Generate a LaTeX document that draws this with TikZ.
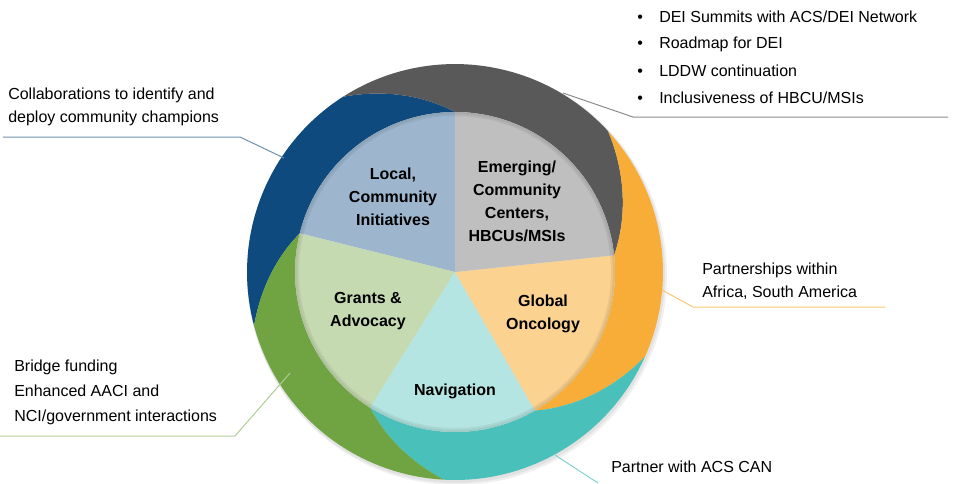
\documentclass[tikz,border=0pt]{standalone}
\usepackage{fontspec}
\setmainfont{Liberation Sans}

\definecolor{bandblue}{RGB}{14,74,126}
\definecolor{bandgray}{RGB}{89,89,89}
\definecolor{bandorange}{RGB}{247,173,55}
\definecolor{bandteal}{RGB}{74,192,186}
\definecolor{bandgreen}{RGB}{112,164,66}
\definecolor{pieblue}{RGB}{157,182,206}
\definecolor{piegray}{RGB}{191,191,191}
\definecolor{pieorange}{RGB}{251,210,143}
\definecolor{pieteal}{RGB}{180,229,226}
\definecolor{piegreen}{RGB}{197,218,177}

% band: colour, tip, end on the pie, next tip, next end
\newcommand{\band}[5]{\fill[#1] (#2:208)
  -- plot[domain=0:1,samples=30,variable=\t] ({#2+(#3-(#2))*\t}:{208-48*\t})
  arc[start angle=#3, end angle=#5, radius=160]
  -- plot[domain=0:1,samples=30,variable=\t] ({#5+(#4-(#5))*\t}:{160+48*\t})
  arc[start angle=#4, end angle=#2, radius=208] -- cycle;}

\tikzset{
  callout/.style={font=\fontsize{12}{17.25}\selectfont, align=left, inner sep=0, anchor=west},
  pielabel/.style={font=\fontsize{12}{17.25}\selectfont\bfseries, align=center, inner sep=0},
  leader/.style={line width=0.75pt}
}

\begin{document}
\begin{tikzpicture}[x=0.75pt, y=0.75pt]
    \useasboundingbox (-455,-211) rectangle (504,272);

    % soft shadow
    \fill[black, opacity=0.06] (2,-3) circle[radius=210];
    \fill[black, opacity=0.06] (1,-2) circle[radius=209];

    % outer swirl
    \band{bandblue}{195}{166}{122.6}{90}
    \band{bandgray}{122.6}{90}{42.6}{6}
    \band{bandorange}{42.6}{6}{-24}{-60}
    \band{bandteal}{-24}{-60}{-93}{-122}
    \band{bandgreen}{-93}{-122}{-165}{-194}

    % pie
    \foreach \c/\s/\e in {pieblue/90/166, piegreen/166/238, pieteal/238/300, pieorange/300/366, piegray/6/90}
      \fill[\c] (0,0) -- (\s:160) arc[start angle=\s, end angle=\e, radius=160] -- cycle;
    \draw[black, opacity=0.06, line width=3pt] (0,0) circle[radius=158];
    \draw[black, opacity=0.05, line width=1.5pt] (0,0) circle[radius=159];

    \node[pielabel] (local) at (-62,75) {Local,\\Community\\Initiatives};
    \node[pielabel] (emerging) at (62,71) {Emerging/\\Community\\Centers,\\HBCUs/MSIs};
    \node[pielabel] (grants) at (-87,-39) {Grants \&\\Advocacy};
    \node[pielabel] (global) at (88,-42) {Global\\Oncology};
    \node[pielabel] (navigation) at (0,-119) {Navigation};

    % callouts
    \foreach \t [count=\i] in {DEI Summits with ACS/DEI Network, Roadmap for DEI, LDDW continuation, Inclusiveness of HBCU/MSIs}
      \node[callout] (dei\i) at (182,282-27*\i) {\makebox[16.5pt][l]{\textbullet}\t};
    \coordinate (deiA) at (108,179);
    \coordinate (deiB) at (178,155);
    \coordinate (deiC) at (493,155);
    \draw[leader, black!45] (deiA) -- (deiB) -- (deiC);

    \node[callout] (collab) at (-447,165) {Collaborations to identify and\\deploy community champions};
    \coordinate (collabA) at (-171,114);
    \coordinate (collabB) at (-215,135);
    \coordinate (collabC) at (-452,135);
    \draw[leader, bandblue!60] (collabA) -- (collabB) -- (collabC);

    \node[callout, font=\fontsize{12}{18.75}\selectfont] (bridge) at (-441,-120) {Bridge funding\\Enhanced AACI and\\NCI/government interactions};
    \coordinate (bridgeA) at (-165,-101);
    \coordinate (bridgeB) at (-220,-164);
    \coordinate (bridgeC) at (-455,-164);
    \draw[leader, bandgreen!55] (bridgeA) -- (bridgeB) -- (bridgeC);

    \node[callout] (africa) at (247,-9) {Partnerships within\\Africa, South America};
    \coordinate (africaA) at (207,-18);
    \coordinate (africaB) at (238,-35);
    \coordinate (africaC) at (430,-35);
    \draw[leader, bandorange!70] (africaA) -- (africaB) -- (africaC);

    \node[callout] (can) at (156,-195) {Partner with ACS CAN};
    \coordinate (canA) at (100,-183);
    \coordinate (canB) at (143,-211);
    \draw[leader, bandteal!70] (canA) -- (canB);
  \end{tikzpicture}
\end{document}
